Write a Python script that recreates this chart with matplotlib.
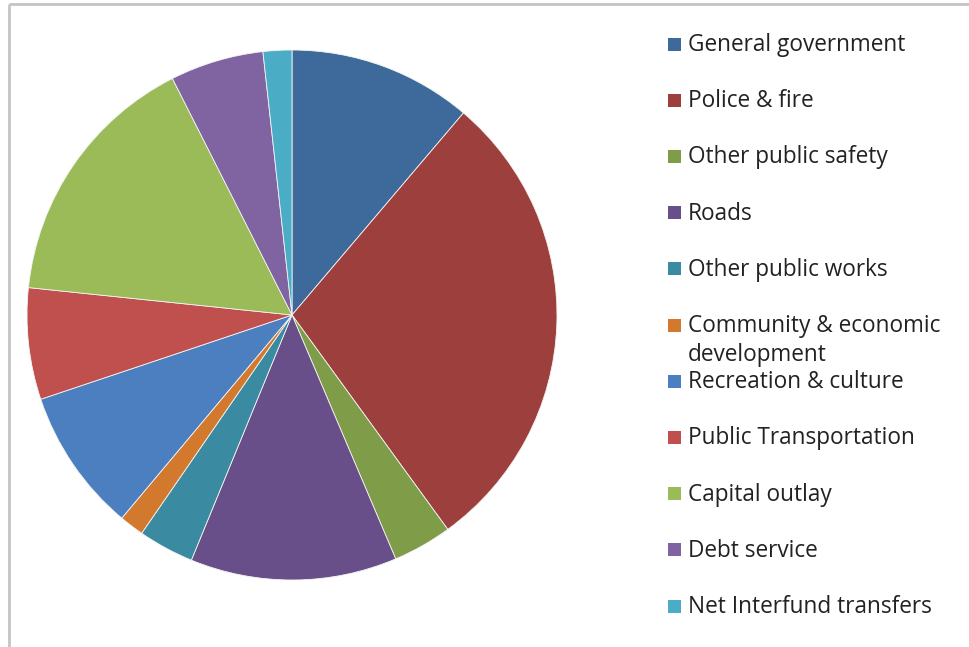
import matplotlib.pyplot as plt
from matplotlib.patches import Rectangle

categories = [
    "General government",
    "Police & fire",
    "Other public safety",
    "Roads",
    "Other public works",
    "Community & economic\ndevelopment",
    "Recreation & culture",
    "Public Transportation",
    "Capital outlay",
    "Debt service",
    "Net Interfund transfers",
]
shares = [11.2, 28.8, 3.6, 12.6, 3.4, 1.5, 8.75, 6.8, 15.9, 5.7, 1.75]
colors = ["#3e6a9b", "#9d403d", "#7f9c48", "#694f89", "#3a8ba1", "#d3792e",
          "#4b7fbf", "#c0504d", "#9bbb59", "#8064a2", "#4bacc6"]

W, H = 969, 647
fig = plt.figure(figsize=(W / 100, H / 100), dpi=100)
fig.patch.set_facecolor("white")

# pie, centred at (292, 315) px with radius 265 px
cx, cy, r = 292, 315, 265
ax = fig.add_axes([(cx - r) / W, (H - cy - r) / H, 2 * r / W, 2 * r / H])
ax.pie(shares, colors=colors, startangle=90, counterclock=False,
       radius=1.0, wedgeprops=dict(edgecolor="#f4f4f4", linewidth=0.6))
ax.set_xlim(-1, 1)
ax.set_ylim(-1, 1)
ax.set_aspect("equal")
ax.axis("off")

# overlay in pixel coordinates for the frame lines and the legend
ov = fig.add_axes([0, 0, 1, 1], zorder=5)
ov.set_xlim(0, W)
ov.set_ylim(H, 0)
ov.axis("off")
ov.plot([9, 9], [H, 4], color="#c4c4c4", lw=2, solid_capstyle="butt")
ov.plot([9, W], [4, 4], color="#c4c4c4", lw=2, solid_capstyle="butt")

fs = 16.3
y0, step = 44, 56.2
for i, (lab, col) in enumerate(zip(categories, colors)):
    y = y0 + i * step
    ov.add_patch(Rectangle((668, y - 6.5), 13, 13, facecolor=col, edgecolor="none"))
    for k, line in enumerate(lab.split("\n")):
        ov.text(688, y + 1 + k * 29, line, family="Open Sans", fontsize=fs,
                color="#222222", va="center", ha="left")

fig.savefig("out.png", dpi=100)
